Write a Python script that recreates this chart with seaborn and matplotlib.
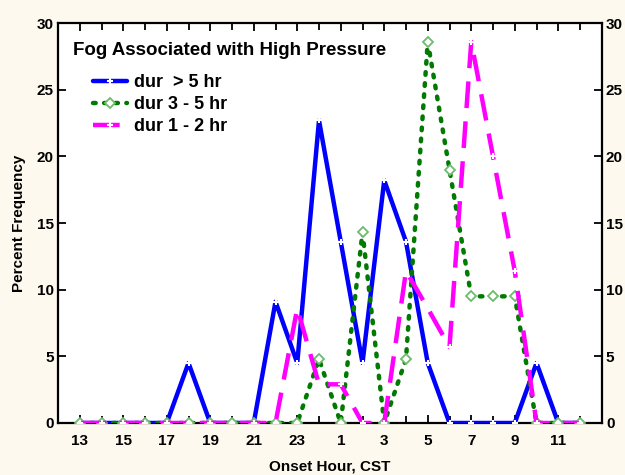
import matplotlib
matplotlib.use("Agg")
import matplotlib.pyplot as plt
import seaborn as sns
import numpy as np

# onset hours, CST (13 .. 23, 0 .. 12)
hours = [13, 14, 15, 16, 17, 18, 19, 20, 21, 22, 23, 0, 1, 2, 3, 4, 5, 6, 7, 8, 9, 10, 11, 12]
dur_long = [0, 0, 0, 0, 0, 4.5, 0, 0, 0, 9.1, 4.5, 22.7, 13.6, 4.5, 18.2, 13.6, 4.5, 0, 0, 0, 0, 4.5, 0, 0]
dur_mid = [0, 0, 0, 0, 0, 0, 0, 0, 0, 0, 0, 4.8, 0, 14.3, 0, 4.8, 28.6, 19.0, 9.5, 9.5, 9.5, 0, 0, 0]
dur_short = [0, 0, 0, 0, 0, 0, 0, 0, 0, 0, 8.6, 2.9, 2.9, 0, 0, 11.4, 8.6, 5.7, 28.6, 20.0, 11.4, 0, 0, 0]
tick_labels = ["13", "15", "17", "19", "21", "23", "1", "3", "5", "7", "9", "11"]

sns.set_theme(style="ticks")
plt.rcParams['font.family'] = ['Liberation Sans', 'DejaVu Sans']
plt.rcParams['text.color'] = 'black'
plt.rcParams['axes.labelcolor'] = 'black'

back_colour = "#fdf9ee"
fig = plt.figure(figsize=(6.25, 4.75), dpi=100)
fig.patch.set_facecolor(back_colour)
ax = fig.add_axes([0.0928, 0.1095, 0.870, 0.842])
ax.set_facecolor("white")

idx = np.arange(len(hours))

sns.lineplot(x=idx, y=dur_long, ax=ax, color="#0000ff", lw=3.2, marker="+",
             markersize=5, mew=1.5, label="dur  > 5 hr", zorder=3)
sns.lineplot(x=idx, y=dur_mid, ax=ax, color="#007a00", lw=3.2, marker="D",
             markersize=5, mfc="white", mec="#6cbc6c", mew=1.3,
             label="dur 3 - 5 hr", zorder=4)
ax.lines[-1].set_linestyle((0, (0.6, 1.9)))
ax.lines[-1].set_dash_capstyle("round")
sns.lineplot(x=idx, y=dur_short, ax=ax, color="#ff00ff", lw=3.2, marker="+",
             markersize=5, mew=1.5, label="dur 1 - 2 hr", zorder=5)
ax.lines[-1].set_linestyle((0, (6, 3)))

ax.set_xlim(-1, 24)
ax.set_ylim(0, 30)
ax.set_xticks(idx[::2])
ax.set_xticklabels(tick_labels)
ax.set_xticks(idx, minor=True)
ax.set_yticks([0, 5, 10, 15, 20, 25, 30])

for sp in ax.spines.values():
    sp.set_visible(True)
    sp.set_color("black")
    sp.set_linewidth(1.6)

ax.tick_params(axis="both", which="both", direction="in", top=True, right=True,
               labelright=True, colors="black", labelcolor="black", width=1.3)
ax.tick_params(axis="both", which="major", length=6, labelsize=11)
ax.tick_params(axis="x", which="major", pad=8)
ax.tick_params(axis="y", which="major", pad=3)
ax.tick_params(axis="x", which="minor", length=5)
for lab in ax.get_xticklabels() + ax.get_yticklabels():
    lab.set_fontweight("bold")
for t in ax.yaxis.get_major_ticks():
    t.label2.set_fontweight("bold")

ax.set_xlabel("Onset Hour, CST", fontsize=11, fontweight="bold", labelpad=8)
ax.set_ylabel("Percent Frequency", fontsize=11, fontweight="bold", labelpad=8)

ax.text(0.0276, 0.9325, "Fog Associated with High Pressure", transform=ax.transAxes,
        fontsize=13.5, fontweight="bold", va="center", ha="left", color="black")

leg = ax.legend(loc="upper left", bbox_to_anchor=(0.064, 0.872),
                frameon=False, fontsize=13, handlelength=1.9,
                borderaxespad=0, borderpad=0, labelspacing=0.28, handletextpad=0.4)
for txt in leg.get_texts():
    txt.set_fontweight("bold")
    txt.set_color("black")

fig.savefig("out.png", dpi=100, facecolor=back_colour)
